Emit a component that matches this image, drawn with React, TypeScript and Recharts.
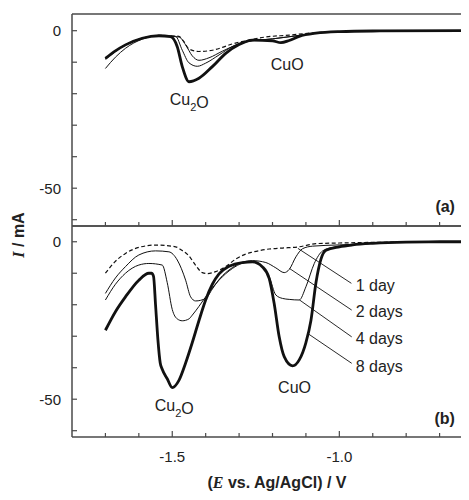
import React from 'react';
import { LineChart, Line, XAxis, YAxis, ReferenceLine, ReferenceDot } from 'recharts';

// ---------- axis ticks ----------
const E_TICKS = [-1.7, -1.6, -1.5, -1.4, -1.3, -1.2, -1.1, -1.0, -0.9, -0.8, -0.7];
const E_LABELS = [-1.5, -1.0];
const I_TICKS = [-60, -50, -40, -30, -20, -10, 0];
const I_LABELS = [-50, 0];

// ---------- panel (a) ----------
const aThickE = [-1.7, -1.67, -1.64, -1.59, -1.54, -1.505, -1.485, -1.47, -1.45, -1.42, -1.38, -1.34, -1.3, -1.26, -1.2, -1.175, -1.15, -1.12, -1.07, -1.0, -0.9, -0.63];
const aThickI = [-8.8, -6.4, -4.5, -2.4, -1.6, -1.9, -5.1, -11.4, -16.2, -15.1, -11.4, -7.2, -4.4, -3.0, -3.2, -3.8, -3.1, -1.8, -0.8, -0.3, -0.1, 0];
const aThinLowE = [-1.7, -1.67, -1.64, -1.59, -1.54, -1.49, -1.47, -1.45, -1.425, -1.4, -1.36, -1.32, -1.28, -1.2, -1.12, -1.05, -0.95, -0.63];
const aThinLowI = [-12.0, -8.4, -5.6, -2.7, -1.6, -1.8, -6.2, -10.2, -11.3, -10.3, -7.7, -5.0, -3.4, -2.6, -1.5, -0.6, -0.2, 0];
const aThinUpE = [-1.7, -1.64, -1.59, -1.54, -1.48, -1.46, -1.44, -1.42, -1.39, -1.35, -1.31, -1.27, -1.2, -1.12, -1.05, -0.95, -0.63];
const aThinUpI = [-9.0, -4.5, -2.4, -1.6, -2.0, -4.5, -8.0, -9.4, -8.6, -6.5, -4.6, -3.4, -2.6, -1.5, -0.6, -0.2, 0];
const aDashE = [-1.7, -1.64, -1.59, -1.54, -1.48, -1.465, -1.45, -1.42, -1.38, -1.35, -1.32, -1.28, -1.22, -1.15, -1.09, -1.0, -0.63];
const aDashI = [-9.0, -4.5, -2.4, -1.5, -1.8, -3.5, -5.8, -6.6, -6.2, -5.3, -4.2, -3.2, -2.0, -1.4, -0.8, -0.3, 0];

// ---------- panel (b) ----------
const day1E = [-1.7, -1.67, -1.64, -1.6, -1.55, -1.49, -1.47, -1.45, -1.43, -1.41, -1.395, -1.37, -1.34, -1.31, -1.28, -1.26, -1.21, -1.17, -1.12, -1.07, -1.0, -0.9, -0.63];
const day1I = [-10.0, -6.2, -3.7, -1.8, -1.05, -1.6, -2.8, -4.5, -7.5, -9.8, -10.1, -9.5, -7.9, -5.5, -3.9, -3.3, -2.3, -2.0, -1.6, -0.6, -0.4, -0.2, 0];
const day2E = [-1.7, -1.67, -1.64, -1.6, -1.55, -1.51, -1.485, -1.46, -1.445, -1.43, -1.4, -1.38, -1.36, -1.32, -1.29, -1.26, -1.22, -1.19, -1.165, -1.15, -1.13, -1.11, -1.08, -1.0, -0.9, -0.8, -0.63];
const day2I = [-16.4, -11.5, -7.9, -4.2, -2.9, -3.2, -5.8, -12.2, -17.5, -18.8, -18.0, -15.0, -12.0, -8.2, -6.5, -6.0, -6.6, -8.3, -9.8, -8.8, -4.8, -2.2, -1.4, -1.0, -0.5, -0.1, 0];
const day4E = [-1.7, -1.67, -1.64, -1.6, -1.57, -1.53, -1.515, -1.5, -1.485, -1.47, -1.45, -1.44, -1.42, -1.4, -1.36, -1.32, -1.29, -1.26, -1.23, -1.21, -1.19, -1.17, -1.15, -1.12, -1.1, -1.075, -1.05, -1.02, -1.0, -0.95, -0.9, -0.8, -0.63];
const day4I = [-18.5, -13.5, -10.0, -7.4, -6.9, -7.4, -13.0, -21.5, -24.5, -25.1, -24.5, -23.3, -20.5, -17.5, -12.2, -8.5, -6.8, -6.3, -7.9, -11.0, -16.9, -18.0, -18.3, -18.5, -14.3, -6.9, -2.9, -1.8, -1.4, -0.9, -0.5, -0.1, 0];
const day8E = [-1.7, -1.67, -1.64, -1.6, -1.57, -1.562, -1.556, -1.55, -1.543, -1.536, -1.53, -1.515, -1.5, -1.48, -1.46, -1.44, -1.42, -1.4, -1.38, -1.36, -1.33, -1.29, -1.26, -1.23, -1.21, -1.195, -1.18, -1.165, -1.14, -1.12, -1.1, -1.085, -1.07, -1.055, -1.04, -1.0, -0.96, -0.9, -0.8, -0.7, -0.63];
const day8I = [-28.1, -22.2, -17.5, -12.2, -10.0, -10.0, -11.0, -20.0, -31.0, -38.5, -40.5, -43.5, -46.3, -44.0, -38.5, -32.0, -25.0, -18.5, -13.5, -10.2, -7.8, -6.6, -6.4, -8.0, -11.6, -19.6, -30.2, -36.5, -39.4, -37.5, -32.0, -25.0, -13.0, -5.5, -2.7, -1.6, -1.0, -0.5, -0.1, 0, 0];

// legend labels of panel (b) and their leader lines
const DAY_LABELS = ['1 day', '2 days', '4 days', '8 days'];
const DAY_LABEL_E = [-0.951, -0.951, -0.951, -0.951];
const DAY_LABEL_I = [-13.8, -22.2, -30.6, -39.4];
const LEAD_FROM_E = [-1.124, -1.149, -1.119, -1.095];
const LEAD_FROM_I = [-2.1, -8.5, -18.5, -29.1];
const LEAD_TO_E = [-0.964, -0.963, -0.963, -0.963];
const LEAD_TO_I = [-13.2, -21.7, -30.2, -38.6];

const zip = (es: number[], is: number[]) => es.map((E, k) => ({ E, I: is[k] }));

const AXIS = '#4a4a4a';
const INK = '#111';
const SANS = "'Liberation Sans', Arial, Helvetica, sans-serif";
const SERIF = "'Liberation Serif', 'Times New Roman', serif";

const isMajor = (v: number, list: number[]) => list.some((m) => Math.abs(m - v) < 1e-6);

const makeXTick = (showLabel: boolean) => (props: any) => {
  const { x, y, payload } = props;
  const v = payload.value as number;
  const major = isMajor(v, E_LABELS);
  return (
    <g>
      <line x1={x} x2={x} y1={y} y2={y - (major ? 6 : 4)} stroke={AXIS} strokeWidth={1.2} />
      {showLabel && major ? (
        <text x={x} y={y + 25} textAnchor="middle" fontFamily={SANS} fontSize={15} fill="#222">
          {v.toFixed(1)}
        </text>
      ) : null}
    </g>
  );
};

const YTick = (props: any) => {
  const { x, y, payload } = props;
  const v = payload.value as number;
  const major = isMajor(v, I_LABELS);
  return (
    <g>
      <line x1={x} x2={x + 5} y1={y} y2={y} stroke={AXIS} strokeWidth={1.2} />
      {major ? (
        <text x={x - 11} y={y} dy="0.36em" textAnchor="end" fontFamily={SANS} fontSize={15} fill="#222">
          {String(v)}
        </text>
      ) : null}
    </g>
  );
};

const annot = (kind: string, anchor: string = 'middle', bold: boolean = false) => (props: any) => {
  const vb = props.viewBox || {};
  const cx = (vb.x || 0) + (vb.width || 0) / 2;
  const cy = (vb.y || 0) + (vb.height || 0) / 2;
  const common = {
    x: cx,
    y: cy,
    dy: '0.36em',
    textAnchor: anchor as any,
    fontFamily: SANS,
    fontSize: 16,
    fontWeight: bold ? 700 : 400,
    fill: '#222',
  };
  if (kind === 'Cu2O') {
    return (
      <text {...common}>
        Cu<tspan fontSize={11} dy="0.55em">2</tspan>
        <tspan dy="-0.19em">O</tspan>
      </text>
    );
  }
  return <text {...common}>{kind}</text>;
};

const lineCommon = {
  dataKey: 'I',
  type: 'monotone' as const,
  dot: false,
  activeDot: false,
  isAnimationActive: false,
  stroke: INK,
};

const W = 461;

export default function App() {
  return (
    <div style={{ position: 'relative', width: W, height: 492 }}>
      {/* bottom panel (b) */}
      <div style={{ position: 'absolute', left: 0, top: 0 }}>
        <LineChart width={W} height={484} margin={{ top: 217, right: 0, bottom: 54, left: 63 }}>
          <XAxis
            xAxisId="top"
            orientation="top"
            type="number"
            dataKey="E"
            domain={[-1.8, -0.612]}
            allowDataOverflow
            height={1}
            tick={false}
            tickLine={false}
            axisLine={{ stroke: AXIS, strokeWidth: 1.5 }}
          />
          <XAxis
            type="number"
            dataKey="E"
            domain={[-1.8, -0.612]}
            allowDataOverflow
            ticks={E_TICKS}
            interval={0}
            height={1}
            tickSize={0}
            tickMargin={0}
            tickLine={false}
            tick={makeXTick(true)}
            axisLine={{ stroke: AXIS, strokeWidth: 1.5 }}
            label={{
              content: (p: any) => {
                const vb = p.viewBox || {};
                return (
                  <text
                    x={vb.x + vb.width / 2 + 6.5}
                    y={vb.y + 50.5}
                    textAnchor="middle"
                    fontFamily={SANS}
                    fontSize={16}
                    fontWeight={700}
                    fill="#222"
                  >
                    (<tspan fontFamily={SERIF} fontStyle="italic">E</tspan> vs. Ag/AgCl) / V
                  </text>
                );
              },
            }}
          />
          <YAxis
            type="number"
            dataKey="I"
            domain={[-62, 5]}
            allowDataOverflow
            ticks={I_TICKS}
            interval={0}
            width={1}
            tickSize={0}
            tickMargin={0}
            tickLine={false}
            tick={YTick}
            axisLine={{ stroke: AXIS, strokeWidth: 1.5 }}
            label={{
              content: (p: any) => {
                const vb = p.viewBox || {};
                const cx = vb.x + vb.width - 53.5;
                const cy = vb.y + 9;
                return (
                  <text
                    x={cx}
                    y={cy}
                    dy="0.36em"
                    transform={`rotate(-90, ${cx}, ${cy})`}
                    textAnchor="middle"
                    fontFamily={SANS}
                    fontSize={16}
                    fontWeight={700}
                    fill="#222"
                  >
                    <tspan fontFamily={SERIF} fontStyle="italic">I</tspan> / mA
                  </text>
                );
              },
            }}
          />
          <Line {...lineCommon} data={zip(day1E, day1I)} strokeWidth={1.2} strokeDasharray="4 2.5" />
          <Line {...lineCommon} data={zip(day2E, day2I)} strokeWidth={1} />
          <Line {...lineCommon} data={zip(day4E, day4I)} strokeWidth={1} />
          <Line {...lineCommon} data={zip(day8E, day8I)} strokeWidth={2.8} />
          {LEAD_FROM_E.map((e, k) => (
            <ReferenceLine
              key={'lead' + k}
              segment={[
                { x: e, y: LEAD_FROM_I[k] },
                { x: LEAD_TO_E[k], y: LEAD_TO_I[k] },
              ]}
              stroke={INK}
              strokeWidth={0.9}
            />
          ))}
          {DAY_LABELS.map((t, k) => (
            <ReferenceDot
              key={'dl' + k}
              x={DAY_LABEL_E[k]}
              y={DAY_LABEL_I[k]}
              r={0}
              stroke="none"
              fill="none"
              label={{ content: annot(t, 'start') }}
            />
          ))}
          <ReferenceDot x={-1.494} y={-51.9} r={0} stroke="none" fill="none" label={{ content: annot('Cu2O') }} />
          <ReferenceDot x={-1.134} y={-46.3} r={0} stroke="none" fill="none" label={{ content: annot('CuO') }} />
          <ReferenceDot x={-0.654} y={-56.2} r={0} stroke="none" fill="none" label={{ content: annot('(b)', 'end', true) }} />
        </LineChart>
      </div>

      {/* top panel (a) */}
      <div style={{ position: 'absolute', left: 0, top: 0 }}>
        <LineChart width={W} height={222} margin={{ top: 5, right: 0, bottom: 3, left: 63 }}>
          <XAxis
            xAxisId="top"
            orientation="top"
            type="number"
            dataKey="E"
            domain={[-1.8, -0.612]}
            allowDataOverflow
            height={1}
            tick={false}
            tickLine={false}
            axisLine={{ stroke: AXIS, strokeWidth: 1.5 }}
          />
          <XAxis
            type="number"
            dataKey="E"
            domain={[-1.8, -0.612]}
            allowDataOverflow
            ticks={E_TICKS}
            interval={0}
            height={1}
            tickSize={0}
            tickMargin={0}
            tickLine={false}
            tick={makeXTick(false)}
            axisLine={{ stroke: AXIS, strokeWidth: 1.5 }}
          />
          <YAxis
            type="number"
            dataKey="I"
            domain={[-62, 5.3]}
            allowDataOverflow
            ticks={I_TICKS}
            interval={0}
            width={1}
            tickSize={0}
            tickMargin={0}
            tickLine={false}
            tick={YTick}
            axisLine={{ stroke: AXIS, strokeWidth: 1.5 }}
          />
          <Line {...lineCommon} data={zip(aDashE, aDashI)} strokeWidth={1.2} strokeDasharray="4 2.5" />
          <Line {...lineCommon} data={zip(aThinUpE, aThinUpI)} strokeWidth={1} />
          <Line {...lineCommon} data={zip(aThinLowE, aThinLowI)} strokeWidth={1} />
          <Line {...lineCommon} data={zip(aThickE, aThickI)} strokeWidth={2.8} />
          <ReferenceDot x={-1.449} y={-21.9} r={0} stroke="none" fill="none" label={{ content: annot('Cu2O') }} />
          <ReferenceDot x={-1.156} y={-10.7} r={0} stroke="none" fill="none" label={{ content: annot('CuO') }} />
          <ReferenceDot x={-0.654} y={-55.7} r={0} stroke="none" fill="none" label={{ content: annot('(a)', 'end', true) }} />
        </LineChart>
      </div>
    </div>
  );
}
